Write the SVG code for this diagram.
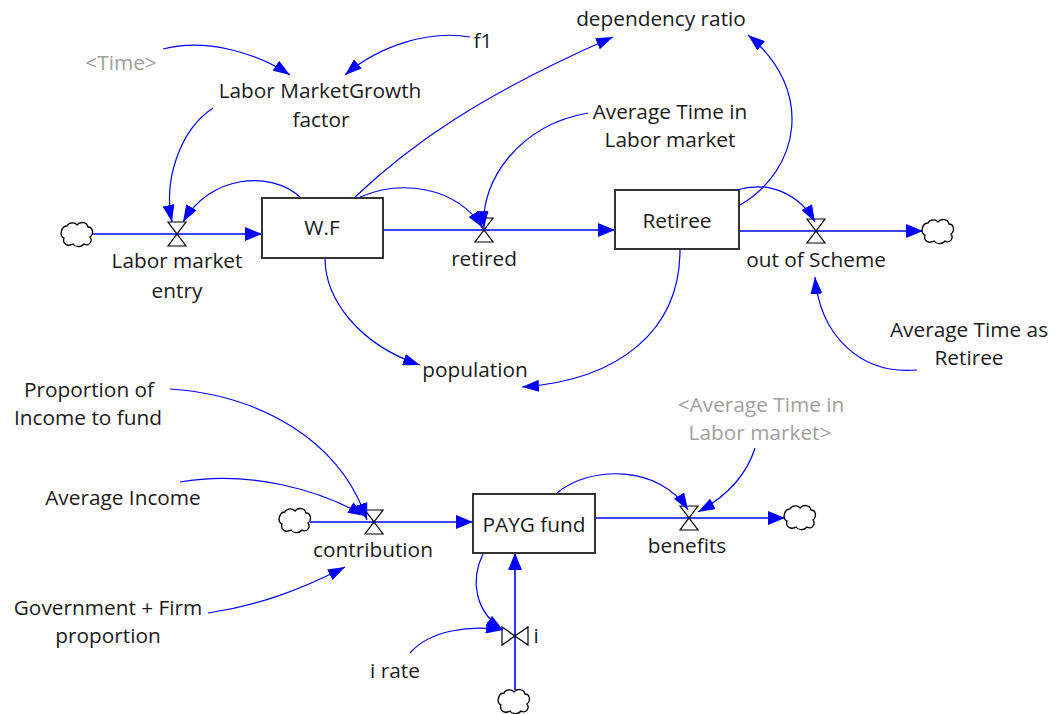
<svg xmlns="http://www.w3.org/2000/svg" width="1063" height="714" viewBox="0 0 1063 714">
<defs>
<style>
.t{font-family:"Open Sans","Noto Sans","Liberation Sans",sans-serif;font-size:20.8px;fill:#1a1a1a;text-anchor:middle}
.g{fill:#a0a0a0}
.stock{fill:#fff;stroke:#333;stroke-width:2}
.valve{fill:#fff;stroke:#000;stroke-width:1.2}
.cloud{fill:#fff;stroke:#000;stroke-width:1.3}
.pipe{fill:none;stroke:#0000ff;stroke-width:1.6;marker-end:url(#fa)}
.c{fill:none;stroke:#0000ff;stroke-width:1.2;marker-end:url(#ca)}
</style>
<marker id="ca" viewBox="0 0 17 12" refX="17" refY="6" markerWidth="17" markerHeight="12" markerUnits="userSpaceOnUse" orient="auto"><path d="M0,0 L17,6 L0,12 z" fill="#0000ff"/></marker>
<marker id="fa" viewBox="0 0 17 14" refX="17" refY="7" markerWidth="17" markerHeight="14" markerUnits="userSpaceOnUse" orient="auto"><path d="M0,0 L17,7 L0,14 z" fill="#0000ff"/></marker>
<path id="cl" d="M-13,4 C-18,2 -16,-8 -10,-8 C-8,-12 -2,-12 0,-9 C3,-13 10,-12 11,-7 C16,-7 17,0 13,3 C16,7 12,13 7,10 C4,14 -2,13 -4,10 C-9,13 -15,10 -13,4 Z"/>
</defs>
<rect width="1063" height="714" fill="#fff"/>
<g id="flows">
<line class="pipe" x1="92" y1="234" x2="262" y2="234"/>
<line class="pipe" x1="383" y1="230" x2="615" y2="230"/>
<line class="pipe" x1="739" y1="231" x2="923" y2="231"/>
<line class="pipe" x1="310" y1="522" x2="473" y2="522"/>
<line class="pipe" x1="595" y1="518" x2="785" y2="518"/>
<line class="pipe" x1="515" y1="690" x2="515" y2="553"/>
</g>
<g id="cloud1"><use href="#cl" class="cloud" transform="translate(77,234)"/></g>
<g id="cloud2"><use href="#cl" class="cloud" transform="translate(938,231)"/></g>
<g id="cloud3"><use href="#cl" class="cloud" transform="translate(295,520)"/></g>
<g id="cloud4"><use href="#cl" class="cloud" transform="translate(800,517)"/></g>
<g id="cloud5"><use href="#cl" class="cloud" transform="translate(514,701)"/></g>
<g id="WF"><rect class="stock" x="262" y="198" width="121" height="60"/><text class="t" x="322" y="235">W.F</text></g>
<g id="Retiree"><rect class="stock" x="615" y="190" width="124" height="59"/><text class="t" x="677" y="228">Retiree</text></g>
<g id="PAYG"><rect class="stock" x="473" y="494" width="122" height="59"/><text class="t" x="534" y="532">PAYG fund</text></g>
<g id="labor-market-entry"><polygon class="valve" points="168,222 186,222 168,246 186,246"/><text class="t" x="177" y="268">Labor market</text><text class="t" x="177" y="298">entry</text></g>
<g id="retired"><polygon class="valve" points="475,218 493,218 475,242 493,242"/><text class="t" x="484" y="266">retired</text></g>
<g id="out-of-scheme"><polygon class="valve" points="807,219 825,219 807,243 825,243"/><text class="t" x="816" y="267">out of Scheme</text></g>
<g id="contribution"><polygon class="valve" points="365,510 383,510 365,534 383,534"/><text class="t" x="373" y="557">contribution</text></g>
<g id="benefits"><polygon class="valve" points="680,506 698,506 680,530 698,530"/><text class="t" x="687" y="553">benefits</text></g>
<g id="i"><polygon class="valve" points="502,627 502,645 528,627 528,645"/><text class="t" x="536" y="643">i</text></g>
<g id="time"><text class="t g" x="121" y="70">&lt;Time&gt;</text></g>
<g id="lmg"><text class="t" x="320" y="98">Labor MarketGrowth</text><text class="t" x="321" y="127">factor</text></g>
<g id="f1"><text class="t" x="483" y="48">f1</text></g>
<g id="dependency-ratio"><text class="t" x="661" y="26">dependency ratio</text></g>
<g id="atlm"><text class="t" x="670" y="119">Average Time in</text><text class="t" x="670" y="147">Labor market</text></g>
<g id="population"><text class="t" x="475" y="377">population</text></g>
<g id="atr"><text class="t" x="969" y="337">Average Time as</text><text class="t" x="969" y="365">Retiree</text></g>
<g id="proportion"><text class="t" x="89" y="397">Proportion of</text><text class="t" x="88" y="425">Income to fund</text></g>
<g id="avg-income"><text class="t" x="123" y="505">Average Income</text></g>
<g id="gov"><text class="t" x="108" y="615">Government + Firm</text><text class="t" x="108" y="643">proportion</text></g>
<g id="irate"><text class="t" x="395" y="678">i rate</text></g>
<g id="atlm-shadow"><text class="t g" x="761" y="412">&lt;Average Time in</text><text class="t g" x="760" y="440">Labor market&gt;</text></g>
<g id="connectors">
<path class="c" d="M163,49 C205,38 255,52 290,75"/>
<path class="c" d="M470,37 C430,30 380,45 345,75"/>
<path class="c" d="M213,108 C180,130 163,180 172,222"/>
<path class="c" d="M300,197 C270,170 210,175 183,222"/>
<path class="c" d="M355,197 C410,145 480,95 613,37"/>
<path class="c" d="M360,197 C400,180 455,185 483,228"/>
<path class="c" d="M325,258 C325,300 360,345 420,365"/>
<path class="c" d="M588,113 C520,125 480,180 484,228"/>
<path class="c" d="M740,205 C800,170 815,90 748,35"/>
<path class="c" d="M737,190 C770,180 800,195 815,222"/>
<path class="c" d="M680,250 C680,330 620,380 522,387"/>
<path class="c" d="M917,370 C860,375 820,335 815,277"/>
<path class="c" d="M170,389 C260,395 340,440 367,520"/>
<path class="c" d="M180,482 C250,470 320,490 365,516"/>
<path class="c" d="M208,613 C260,605 300,590 345,567"/>
<path class="c" d="M410,653 C430,630 470,625 503,630"/>
<path class="c" d="M483,554 C470,580 475,612 503,630"/>
<path class="c" d="M557,493 C590,465 660,465 688,510"/>
<path class="c" d="M755,448 C745,480 720,500 698,512"/>
</g>
</svg>
